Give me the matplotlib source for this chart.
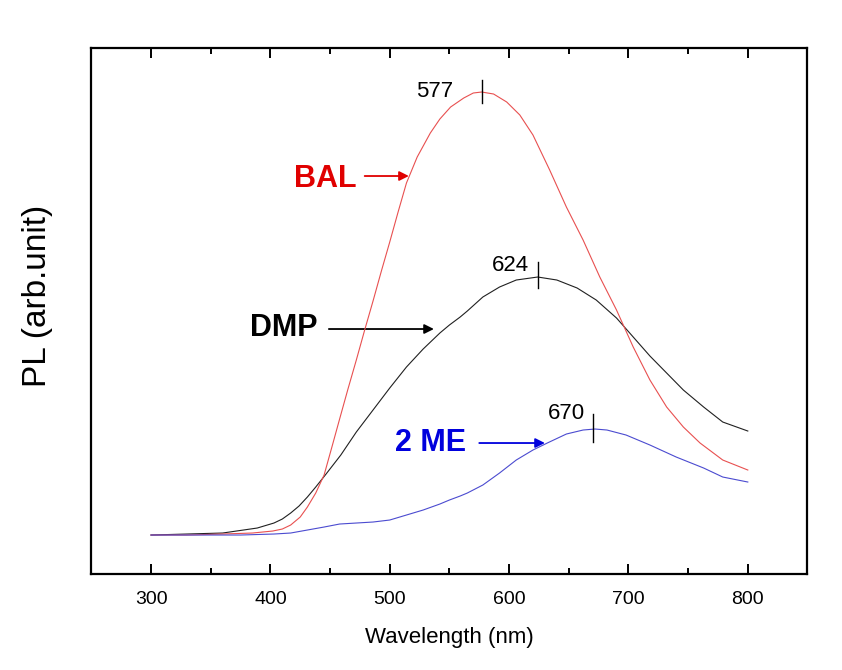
import matplotlib
matplotlib.use("Agg")
import matplotlib.pyplot as plt
from matplotlib.ticker import MultipleLocator, NullLocator

plt.rcParams['font.family'] = ['Liberation Sans', 'DejaVu Sans']

# ---- data (arbitrary PL units) ----
bal_wl = [300, 330, 360, 385, 402, 410, 417, 425, 431, 438, 445, 452, 458, 465,
          472, 479, 486, 493, 500, 507, 514, 523, 534, 542, 551, 562, 570, 577,
          587, 598, 609, 620, 634, 648, 662, 676, 690, 704, 718, 732, 746, 760,
          779, 800]
bal_pl = [0, 0, 1, 2, 4, 6, 10, 18, 28, 42, 60, 90, 116, 146,
          175, 205, 234, 264, 293, 323, 352, 378, 402, 416, 428, 437, 442, 443,
          441, 433, 420, 400, 365, 328, 295, 258, 225, 188, 155, 128, 108, 92,
          75, 65]

dmp_wl = [300, 330, 360, 389, 403, 410, 417, 424, 431, 438, 446, 459, 472, 486,
          500, 514, 528, 542, 550, 559, 565, 578, 592, 606, 624, 640, 657, 673,
          690, 704, 718, 732, 746, 763, 779, 800]
dmp_pl = [0, 1, 2, 7, 12, 16, 22, 29, 38, 48, 60, 80, 103, 125,
          147, 168, 186, 202, 210, 218, 224, 238, 248, 255, 258, 255, 247, 235,
          217, 198, 179, 162, 145, 128, 113, 104]

me_wl = [300, 375, 403, 417, 431, 445, 458, 472, 486, 500, 514, 528, 542, 550,
         559, 565, 578, 592, 606, 620, 632, 648, 662, 672, 682, 698, 718, 740,
         763, 779, 800]
me_pl = [0, 0, 1, 2, 5, 8, 11, 12, 13, 15, 20, 25, 31, 35,
         39, 42, 50, 62, 75, 85, 92, 101, 105, 106, 105, 100, 90, 78,
         67, 58, 53]

peak_wl = [577, 624, 670]
peak_labels = ["577", "624", "670"]
series_names = ["BAL", "DMP", "2 ME"]

# ---- figure ----
fig = plt.figure(figsize=(8.42, 6.70), dpi=100)
ax = fig.add_axes([0.1085, 0.1428, 0.8505, 0.7851])

ax.plot(dmp_wl, dmp_pl, color='#202020', lw=0.8, zorder=3)
ax.plot(bal_wl, bal_pl, color='#e85050', lw=0.8, zorder=4)
ax.plot(me_wl, me_pl, color='#4b4bd0', lw=0.8, zorder=5)

ax.set_xlim(250, 850)
ax.set_ylim(-39.3, 486.7)

ax.xaxis.set_major_locator(MultipleLocator(100))
ax.xaxis.set_minor_locator(MultipleLocator(50))
ax.yaxis.set_major_locator(NullLocator())
ax.yaxis.set_minor_locator(NullLocator())
ax.tick_params(axis='x', which='both', direction='in', top=True, bottom=True,
               labelsize=14, pad=12, width=1.4)
ax.tick_params(axis='x', which='major', length=7)
ax.tick_params(axis='x', which='minor', length=4)
for s in ax.spines.values():
    s.set_linewidth(1.6)

ax.set_xlabel("Wavelength (nm)", fontsize=16, labelpad=14)
ax.set_ylabel("PL (arb.unit)", fontsize=24)
ax.yaxis.set_label_coords(-0.053, 0.529)

# peak markers
peak_y = [(432, 455), (247, 273), (93, 121)]
peak_lbl_pos = [(553, 444), (617, 270), (663.5, 122)]
for wl, (y0, y1), lbl, (lx, ly) in zip(peak_wl, peak_y, peak_labels, peak_lbl_pos):
    ax.plot([wl, wl], [y0, y1], color='black', lw=1.0, zorder=6)
    ax.text(lx, ly, lbl, ha='right', va='center', fontsize=16, color='black')

# series labels with arrows
label_info = [
    ("BAL", '#e00000', (446, 356), (479, 359), (516, 359)),
    ("DMP", 'black', (411, 207), (449, 206), (537, 206)),
    ("2 ME", '#0000dd', (534, 92), (575, 92), (630, 92)),
]
for name, col, (tx, ty), (ax0, ay0), (ax1, ay1) in label_info:
    ax.text(tx, ty, name, ha='center', va='center', fontsize=22,
            fontweight='bold', color=col)
    ax.annotate("", xy=(ax1, ay1), xytext=(ax0, ay0),
                arrowprops=dict(arrowstyle='-|>', color=col, lw=1.3,
                                mutation_scale=14, shrinkA=0, shrinkB=0))

fig.savefig("out.png", dpi=100)
